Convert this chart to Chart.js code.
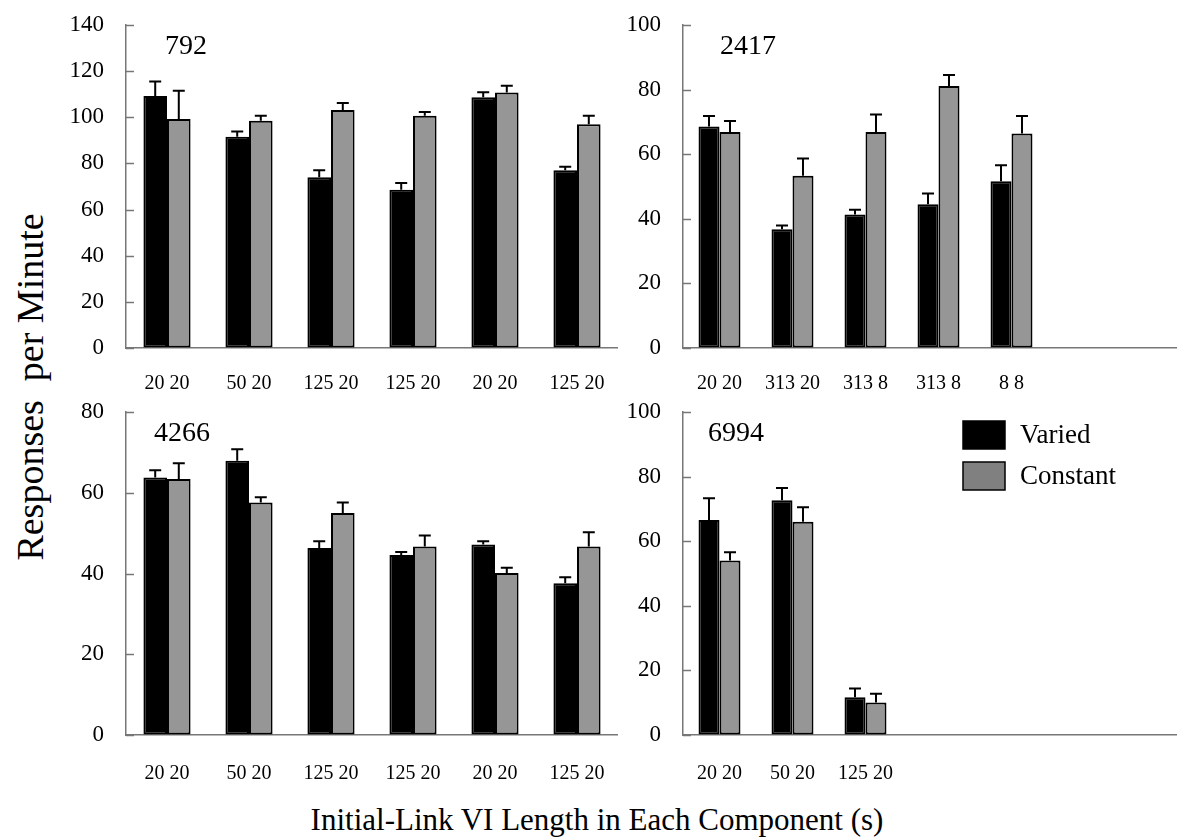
<!DOCTYPE html>
<html>
<head>
<meta charset="utf-8">
<script src="https://cdn.jsdelivr.net/npm/chart.js@4.4.1/dist/chart.umd.min.js"></script>
<style>
  html, body { margin: 0; padding: 0; background: #fff; overflow: hidden; }
  body { width: 1177px; height: 840px; position: relative; font-family: "Liberation Serif", "Times New Roman", serif; }
  .panel { position: absolute; }
  .ytitle { position: absolute; left: 30px; top: 387px; transform: translate(-50%, -50%) rotate(-90deg); font-size: 38px; white-space: pre; color: #000; }
  .xtitle { position: absolute; left: 597px; top: 820px; transform: translate(-50%, -50%); font-size: 31px; white-space: pre; color: #000; }
</style>
</head>
<body>
<div class="panel" style="left:66px;top:13px;width:552px;height:380px"><canvas id="c792"></canvas></div>
<div class="panel" style="left:623px;top:13px;width:571px;height:380px"><canvas id="c2417"></canvas></div>
<div class="panel" style="left:66px;top:400px;width:552px;height:380px"><canvas id="c4266"></canvas></div>
<div class="panel" style="left:623px;top:400px;width:571px;height:380px"><canvas id="c6994"></canvas></div>
<div class="ytitle">Responses  per Minute</div>
<div class="xtitle">Initial-Link VI Length in Each Component (s)</div>
<script>
// subject 792
var labels792 = ['20 20', '50 20', '125 20', '125 20', '20 20', '125 20'];
var varied792 = [109.2, 91.6, 74.0, 68.6, 108.7, 77.0];
var variedErr792 = [6.3, 2.2, 3.0, 2.9, 2.1, 1.6];
var constant792 = [99.3, 98.5, 103.2, 100.7, 110.7, 97.0];
var constantErr792 = [12.2, 2.2, 3.0, 1.6, 3.0, 3.7];

// subject 2417
var labels2417 = ['20 20', '313 20', '313 8', '313 8', '8 8', '', ''];
var varied2417 = [68.6, 36.8, 41.3, 44.5, 51.6];
var variedErr2417 = [3.2, 1.1, 1.5, 3.3, 5.0];
var constant2417 = [66.9, 53.3, 66.9, 81.1, 66.4];
var constantErr2417 = [3.4, 5.4, 5.4, 3.4, 5.4];

// subject 4266
var labels4266 = ['20 20', '50 20', '125 20', '125 20', '20 20', '125 20'];
var varied4266 = [63.8, 67.9, 46.3, 44.6, 47.2, 37.6];
var variedErr4266 = [1.8, 2.9, 1.7, 0.7, 0.8, 1.5];
var constant4266 = [63.4, 57.6, 55.0, 46.7, 40.1, 46.7];
var constantErr4266 = [3.9, 1.3, 2.6, 2.7, 1.3, 3.5];

// subject 6994
var labels6994 = ['20 20', '50 20', '125 20', '', '', '', ''];
var varied6994 = [66.6, 72.7, 11.7];
var variedErr6994 = [6.7, 3.8, 2.7];
var constant6994 = [54.0, 66.0, 10.1];
var constantErr6994 = [2.6, 4.5, 2.7];

var seriesNames = ['Varied', 'Constant'];

var FONT = '"Liberation Serif", "Times New Roman", serif';
var AXIS = '#777';

// upward error bars with a cap
var errorBars = {
    id: 'errorBars',
    afterDatasetsDraw: function (chart) {
        var ctx = chart.ctx;
        var y = chart.scales.y;
        ctx.save();
        ctx.strokeStyle = '#000';
        ctx.lineWidth = 2;
        chart.data.datasets.forEach(function (ds, di) {
            var meta = chart.getDatasetMeta(di);
            meta.data.forEach(function (bar, i) {
                var top = y.getPixelForValue(ds.data[i] + ds.errors[i]);
                ctx.beginPath();
                ctx.moveTo(bar.x, bar.y);
                ctx.lineTo(bar.x, top);
                ctx.moveTo(bar.x - 6, top);
                ctx.lineTo(bar.x + 6, top);
                ctx.stroke();
            });
        });
        ctx.restore();
    }
};

// tick marks pointing into the plot
var innerTicks = {
    id: 'innerTicks',
    afterDraw: function (chart) {
        var ctx = chart.ctx;
        var y = chart.scales.y;
        var left = chart.chartArea.left;
        ctx.save();
        ctx.strokeStyle = AXIS;
        ctx.lineWidth = 1.5;
        y.ticks.forEach(function (t) {
            var py = Math.round(y.getPixelForValue(t.value)) + 0.5;
            ctx.beginPath();
            ctx.moveTo(left, py);
            ctx.lineTo(left + 8, py);
            ctx.stroke();
        });
        ctx.restore();
    }
};

// subject number in the corner + optional legend
var panelTag = {
    id: 'panelTag',
    afterDraw: function (chart, args, opts) {
        var ctx = chart.ctx;
        var a = chart.chartArea;
        ctx.save();
        ctx.fillStyle = '#000';
        ctx.font = '28px ' + FONT;
        ctx.textBaseline = 'middle';
        ctx.fillText(opts.text, a.left + opts.dx, a.top + 22);
        if (opts.legend) {
            var colors = ['#000000', '#808080'];
            var lx = a.left + 280, ly = a.top + 9;
            ctx.font = '27px ' + FONT;
            seriesNames.forEach(function (name, i) {
                var by = ly + i * 41;
                ctx.fillStyle = colors[i];
                ctx.fillRect(lx, by, 42, 28);
                ctx.strokeStyle = '#000';
                ctx.lineWidth = 1.5;
                ctx.strokeRect(lx, by, 42, 28);
                ctx.fillStyle = '#000';
                ctx.fillText(name, lx + 57, by + 15);
            });
        }
        ctx.restore();
    }
};

function makePanel(id, labels, varied, variedErr, constant, constantErr, max, tag, dx, legend, labelPad) {
    new Chart(document.getElementById(id), {
        type: 'bar',
        data: {
            labels: labels,
            datasets: [{
                label: seriesNames[0],
                data: varied,
                errors: variedErr,
                backgroundColor: '#000000',
                borderColor: '#000000',
                borderWidth: 2,
                borderSkipped: false
            }, {
                label: seriesNames[1],
                data: constant,
                errors: constantErr,
                backgroundColor: '#969696',
                borderColor: '#000000',
                borderWidth: 2,
                borderSkipped: false
            }]
        },
        options: {
            responsive: true,
            maintainAspectRatio: false,
            animation: false,
            categoryPercentage: 0.575,
            barPercentage: 1.0,
            layout: { padding: { top: 12, right: 0, left: 0, bottom: 0 } },
            scales: {
                x: {
                    grid: { display: false, drawTicks: false },
                    border: { display: true, color: AXIS, width: 1.5 },
                    ticks: { color: '#000', font: { family: FONT, size: 20 }, padding: labelPad, maxRotation: 0, autoSkip: false },
                    afterFit: function (s) { s.height = 45; s.paddingLeft = 0; s.paddingRight = 0; }
                },
                y: {
                    min: 0,
                    max: max,
                    grid: { drawOnChartArea: false, drawTicks: false },
                    border: { display: true, color: AXIS, width: 1.5 },
                    ticks: { stepSize: 20, color: '#000', font: { family: FONT, size: 23 }, padding: 22 },
                    afterFit: function (s) { s.width = 60; s.paddingTop = 0; s.paddingBottom = 0; }
                }
            },
            plugins: {
                legend: { display: false },
                tooltip: { enabled: false },
                panelTag: { text: tag, dx: dx, legend: legend }
            }
        },
        plugins: [errorBars, innerTicks, panelTag]
    });
}

makePanel('c792', labels792, varied792, variedErr792, constant792, constantErr792, 140, '792', 39, false, 24);
makePanel('c2417', labels2417, varied2417, variedErr2417, constant2417, constantErr2417, 100, '2417', 37, false, 24);
makePanel('c4266', labels4266, varied4266, variedErr4266, constant4266, constantErr4266, 80, '4266', 28, false, 27);
makePanel('c6994', labels6994, varied6994, variedErr6994, constant6994, constantErr6994, 100, '6994', 25, true, 27);
</script>
</body>
</html>
